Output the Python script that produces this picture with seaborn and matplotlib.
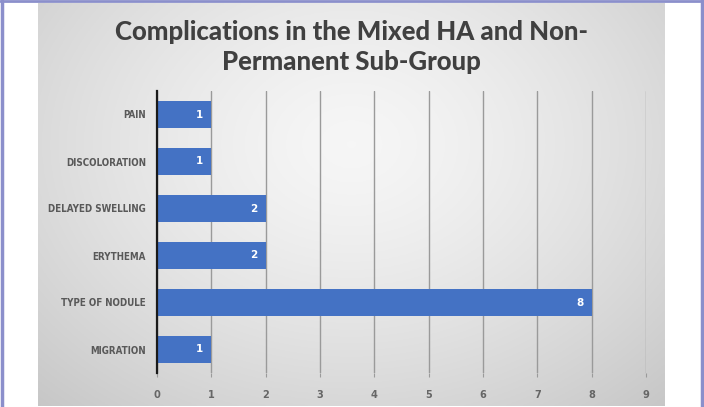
import numpy as np
import matplotlib
matplotlib.use("Agg")
import matplotlib.pyplot as plt
import seaborn as sns
from matplotlib.lines import Line2D

categories = ["PAIN", "DISCOLORATION", "DELAYED SWELLING", "ERYTHEMA", "TYPE OF NODULE", "MIGRATION"]
values = [1, 1, 2, 2, 8, 1]
x_ticks = [0, 1, 2, 3, 4, 5, 6, 7, 8, 9]
title = "Complications in the Mixed HA and Non-\nPermanent Sub-Group"

sns.set_theme(style="white")
plt.rcParams['font.family'] = ['DejaVu Sans']

fig = plt.figure(figsize=(7.04, 4.07), dpi=100)
fig.patch.set_facecolor("white")

# gradient panel
bg = fig.add_axes([38/704, 1/407, 627/704, 403/407])
H, W = 200, 300
yy, xx = np.mgrid[0:1:H*1j, 0:1:W*1j]
d = np.sqrt(((xx - 0.5) / 0.75) ** 2 + ((yy - 0.35) / 0.9) ** 2)
val = 0.965 - 0.19 * np.clip(d, 0, 1.2) ** 1.4
img = np.dstack([val, val, val])
bg.imshow(img, aspect="auto", extent=[0, 1, 0, 1], origin="upper")
bg.set_axis_off()

# border lines
bc = "#8b8fcb"
fig.add_artist(Line2D([1.5/704, 1.5/704], [0, 1], transform=fig.transFigure, color=bc, lw=2.5))
fig.add_artist(Line2D([701.5/704, 701.5/704], [0, 1], transform=fig.transFigure, color=bc, lw=2.5))
fig.add_artist(Line2D([0, 1], [1 - 1/407, 1 - 1/407], transform=fig.transFigure, color=bc, lw=2))

ax = fig.add_axes([157/704, 34/407, 489/704, 282/407])
ax.patch.set_alpha(0)
sns.barplot(x=values, y=categories, orient="h", color="#4472C4", saturation=1,
            width=0.57, ax=ax, zorder=3, linewidth=0)
ax.set_xlim(0, 9)
ax.set_ylim(5.5, -0.5)
ax.set_xticks(x_ticks)
ax.set_xticklabels([str(t) for t in x_ticks])
ax.grid(axis="x", color="#9a9a9a", lw=1.0, zorder=0)
ax.set_axisbelow(True)
for s in ["top", "right", "bottom"]:
    ax.spines[s].set_visible(False)
ax.spines["left"].set_color("#1a1a1a")
ax.spines["left"].set_linewidth(1.6)
ax.spines["left"].set_zorder(5)
ax.set_xlabel("")
ax.set_ylabel("")
ax.tick_params(axis="y", length=0, pad=8, labelsize=7.0, labelcolor="#595959")
ax.tick_params(axis="x", length=3, width=0.8, color="#9a9a9a", pad=9,
               labelsize=7.8, labelcolor="#666666", bottom=True)
for lab in ax.get_yticklabels() + ax.get_xticklabels():
    lab.set_fontweight("bold")
    lab.set_fontstretch("condensed")

for i, v in enumerate(values):
    ax.annotate(str(v), xy=(v, i), xytext=(-6, 0), textcoords="offset points",
                ha="right", va="center", color="white", fontsize=7.5, fontweight="bold")

fig.text(351.5/704, 1 - 47/407, title, ha="center", va="center", fontsize=18.5,
         fontweight="black", color="#404040", linespacing=1.3,
         family=["Lato", "DejaVu Sans"])

fig.savefig("out.png", dpi=100)
